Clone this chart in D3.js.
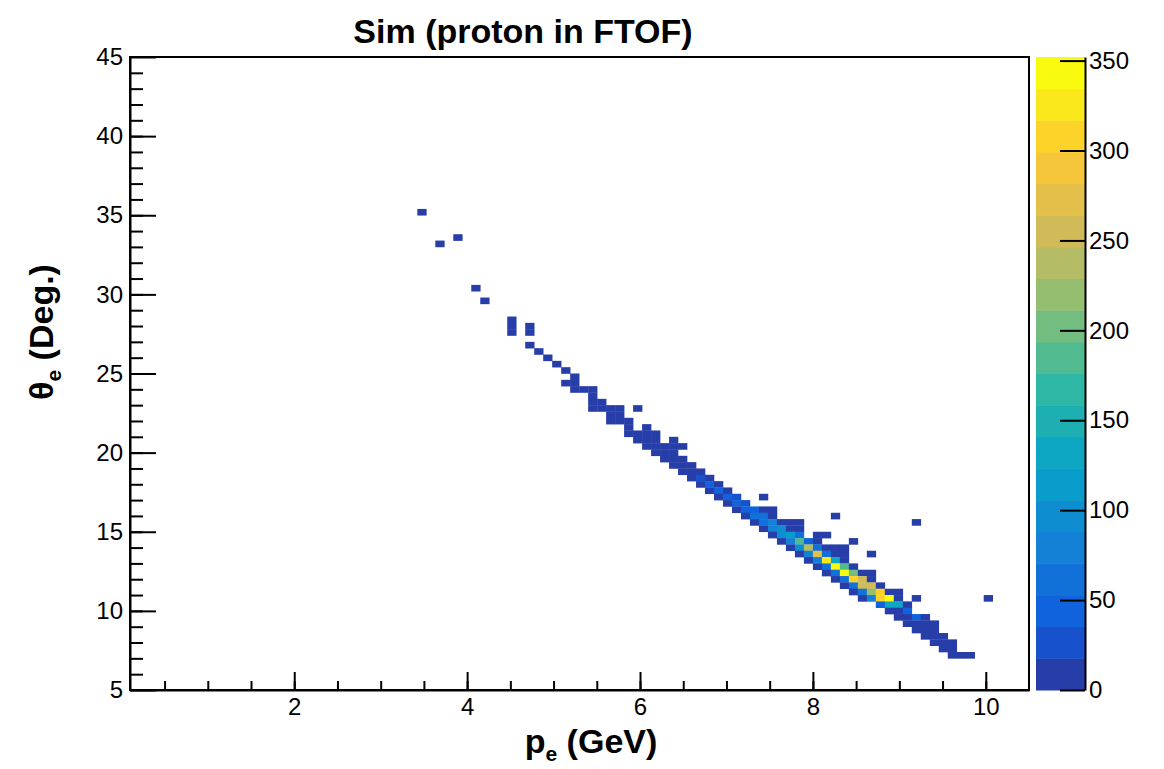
<!DOCTYPE html>
<html>
<head>
<meta charset="utf-8">
<script src="https://cdn.jsdelivr.net/npm/d3@7"></script>
<style>
  body { margin: 0; background: #fff; }
  text { font-family: "Liberation Sans", Arial, Helvetica, sans-serif; }
</style>
</head>
<body>
<div id="chart"></div>
<script>
// histogram binning (100 x 100)
const pBinLo = 0.2, pBinWidth = 0.104;
const thBinLo = 5, thBinWidth = 0.4;

// filled cells: [theta bin, p bin, counts]
const cells = [
  [75, 31, 3], [71, 35, 2], [70, 33, 2], [63, 37, 2], [61, 38, 3],
  [58, 41, 2], [57, 41, 4], [57, 43, 3], [56, 41, 3], [56, 43, 2],
  [54, 43, 3], [53, 44, 4], [52, 45, 3], [51, 46, 5], [50, 47, 4],
  [49, 48, 6], [48, 47, 3], [48, 48, 7], [47, 48, 5], [47, 49, 8], [47, 50, 4],
  [46, 50, 10], [45, 50, 8], [45, 51, 6],
  [44, 50, 5], [44, 51, 12], [44, 52, 7], [44, 53, 3], [44, 55, 2],
  [43, 52, 10], [43, 53, 9],
  [42, 52, 6], [42, 53, 12], [42, 54, 8],
  [41, 54, 11], [41, 56, 3],
  [40, 54, 7], [40, 55, 14], [40, 56, 10], [40, 57, 4],
  [39, 55, 9], [39, 56, 15], [39, 57, 8], [39, 59, 2],
  [38, 56, 6], [38, 57, 14], [38, 58, 12], [38, 59, 5], [38, 60, 3],
  [37, 57, 8], [37, 58, 15], [37, 59, 10],
  [36, 58, 9], [36, 59, 16], [36, 60, 6],
  [35, 59, 7], [35, 60, 15], [35, 61, 10],
  [34, 60, 8], [34, 61, 16], [34, 62, 9],
  [33, 61, 12], [33, 62, 30], [33, 63, 10],
  [32, 62, 14], [32, 63, 38], [32, 64, 12],
  [31, 63, 15], [31, 64, 42], [31, 65, 14],
  [30, 64, 12], [30, 65, 40], [30, 66, 30], [30, 69, 3],
  [29, 65, 15], [29, 66, 45], [29, 67, 25],
  [28, 66, 14], [28, 67, 48], [28, 68, 52], [28, 69, 10], [28, 70, 4],
  [27, 67, 16], [27, 68, 58], [27, 69, 62], [27, 70, 12], [27, 77, 3],
  [26, 68, 14], [26, 69, 62], [26, 70, 78], [26, 71, 10], [26, 72, 8], [26, 73, 4], [26, 86, 2],
  [25, 69, 15], [25, 70, 72], [25, 71, 100], [25, 72, 12], [25, 73, 5],
  [24, 70, 16], [24, 71, 88], [24, 72, 122], [24, 73, 58], [24, 75, 6], [24, 76, 3],
  [23, 71, 14], [23, 72, 80], [23, 73, 178], [23, 74, 45], [23, 75, 8], [23, 79, 3],
  [22, 72, 15], [22, 73, 95], [22, 74, 235], [22, 75, 62], [22, 76, 12], [22, 77, 6], [22, 78, 3],
  [21, 73, 14], [21, 74, 85], [21, 75, 270], [21, 76, 60], [21, 77, 10], [21, 78, 5], [21, 81, 2],
  [20, 74, 16], [20, 75, 80], [20, 76, 328], [20, 77, 130], [20, 78, 8],
  [19, 75, 15], [19, 76, 65], [19, 77, 345], [19, 78, 185], [19, 79, 12],
  [18, 76, 14], [18, 77, 60], [18, 78, 338], [18, 79, 210], [18, 80, 10], [18, 81, 4],
  [17, 77, 15], [17, 78, 55], [17, 79, 310], [17, 80, 258], [17, 81, 12],
  [16, 78, 14], [16, 79, 58], [16, 80, 262], [16, 81, 262], [16, 82, 10],
  [15, 79, 15], [15, 80, 62], [15, 81, 222], [15, 82, 300], [15, 83, 10], [15, 84, 5],
  [14, 80, 14], [14, 81, 75], [14, 82, 302], [14, 83, 352], [14, 84, 12], [14, 86, 3], [14, 94, 2],
  [13, 82, 40], [13, 83, 135], [13, 84, 128], [13, 85, 12],
  [12, 83, 14], [12, 84, 10], [12, 85, 40],
  [11, 84, 12], [11, 85, 14], [11, 86, 38], [11, 87, 8],
  [10, 85, 10], [10, 86, 15], [10, 87, 12], [10, 88, 5],
  [9, 86, 8], [9, 87, 14], [9, 88, 9],
  [8, 87, 7], [8, 88, 12], [8, 89, 6],
  [7, 88, 8], [7, 89, 10], [7, 90, 5],
  [6, 89, 6], [6, 90, 9],
  [5, 90, 4], [5, 91, 7], [5, 92, 5]
];

const xTicks = [2, 4, 6, 8, 10];
const yTicks = [5, 10, 15, 20, 25, 30, 35, 40, 45];
const zTicks = [0, 50, 100, 150, 200, 250, 300, 350];
const nContours = 20;

// ROOT kBird palette
const birdStops = [0.0, 0.125, 0.25, 0.375, 0.5, 0.625, 0.75, 0.875, 1.0];
const birdR = [0.2082, 0.0592, 0.0780, 0.0232, 0.1802, 0.5301, 0.8186, 0.9956, 0.9764];
const birdG = [0.1664, 0.3599, 0.5041, 0.6419, 0.7178, 0.7492, 0.7328, 0.7862, 0.9832];
const birdB = [0.5293, 0.8684, 0.8385, 0.7914, 0.6425, 0.4662, 0.3499, 0.1968, 0.0539];
const bird = d3.scaleLinear()
  .domain(birdStops)
  .range(birdStops.map((s, i) => d3.rgb(birdR[i] * 255, birdG[i] * 255, birdB[i] * 255)))
  .interpolate(d3.interpolateRgb);
const levelColor = i => bird(Math.floor((i + 0.99) * 255 / nContours) / 254);

const W = 1164, H = 769;
const frame = { left: 130, right: 1029, top: 57, bottom: 690 };
const bar = { left: 1036, right: 1085 };
const labelSize = 24;

const svg = d3.select('#chart').append('svg')
  .attr('width', W).attr('height', H);
svg.append('rect').attr('width', W).attr('height', H).attr('fill', '#fff');

const x = d3.scaleLinear().domain([0.1, 10.5]).range([frame.left, frame.right]);
const y = d3.scaleLinear().domain([5, 45]).range([frame.bottom, frame.top]);
const zMax = d3.max(cells, d => d[2]);
const z = d3.scaleLinear().domain([0, zMax]).range([frame.bottom, frame.top]);
const level = v => Math.min(nContours - 1, Math.floor(v / zMax * nContours));

// cells
svg.append('g').selectAll('rect')
  .data(cells)
  .join('rect')
  .attr('x', d => x(pBinLo + d[1] * pBinWidth))
  .attr('width', d => x(pBinLo + (d[1] + 1) * pBinWidth) - x(pBinLo + d[1] * pBinWidth) + 0.3)
  .attr('y', d => y(thBinLo + (d[0] + 1) * thBinWidth))
  .attr('height', d => y(thBinLo + d[0] * thBinWidth) - y(thBinLo + (d[0] + 1) * thBinWidth) + 0.3)
  .attr('fill', d => levelColor(level(d[2])));

// frame
svg.append('rect')
  .attr('x', frame.left).attr('y', frame.top)
  .attr('width', frame.right - frame.left).attr('height', frame.bottom - frame.top)
  .attr('fill', 'none').attr('stroke', '#000').attr('stroke-width', 2);

function styleAxis(g) {
  g.selectAll('path').attr('stroke', '#000').attr('stroke-width', 2);
  g.selectAll('line').attr('stroke', '#000').attr('stroke-width', 2);
  g.selectAll('text').attr('font-size', labelSize).attr('fill', '#000')
    .style('font-family', '"Liberation Sans", Arial, sans-serif');
}

// x axis
svg.append('g')
  .attr('transform', `translate(0,${frame.bottom})`)
  .call(d3.axisBottom(x).tickValues(d3.range(0.5, 10.5, 0.5)).tickSize(-9).tickFormat('').tickSizeOuter(0))
  .call(styleAxis);
svg.append('g')
  .attr('transform', `translate(0,${frame.bottom})`)
  .call(d3.axisBottom(x).tickValues(xTicks).tickSize(-18).tickPadding(8).tickSizeOuter(0))
  .call(styleAxis)
  .call(g => g.select('.domain').remove());

// y axis
svg.append('g')
  .attr('transform', `translate(${frame.left},0)`)
  .call(d3.axisLeft(y).tickValues(d3.range(6, 45, 1)).tickSize(-13).tickFormat('').tickSizeOuter(0))
  .call(styleAxis);
svg.append('g')
  .attr('transform', `translate(${frame.left},0)`)
  .call(d3.axisLeft(y).tickValues(yTicks).tickSize(-26).tickPadding(8).tickSizeOuter(0))
  .call(styleAxis)
  .call(g => g.select('.domain').remove())
  .call(g => g.selectAll('.tick line').attr('x2', 26))
  .call(g => g.selectAll('.tick text').attr('x', -7));

// colour bar
const bands = d3.range(nContours);
svg.append('g').selectAll('rect')
  .data(bands)
  .join('rect')
  .attr('x', bar.left)
  .attr('width', bar.right - bar.left)
  .attr('y', i => z((i + 1) * zMax / nContours))
  .attr('height', i => z(i * zMax / nContours) - z((i + 1) * zMax / nContours) + 0.5)
  .attr('fill', i => levelColor(i));
svg.append('g')
  .attr('transform', `translate(${bar.right},0)`)
  .call(d3.axisRight(z).tickValues(zTicks).tickSize(-25).tickPadding(4).tickSizeOuter(0))
  .call(styleAxis);

// titles
svg.append('text')
  .attr('x', 523).attr('y', 43)
  .attr('text-anchor', 'middle')
  .attr('font-size', 34).attr('font-weight', 'bold')
  .text('Sim (proton in FTOF)');

const xt = svg.append('text')
  .attr('x', 591).attr('y', 753)
  .attr('text-anchor', 'middle')
  .attr('font-size', 34).attr('font-weight', 'bold');
xt.append('tspan').text('p');
xt.append('tspan').attr('font-size', 21).attr('dy', 8).text('e');
xt.append('tspan').attr('dy', -8).text(' (GeV)');

const yt = svg.append('text')
  .attr('transform', 'translate(53,332) rotate(-90)')
  .attr('text-anchor', 'middle')
  .attr('font-size', 34).attr('font-weight', 'bold');
yt.append('tspan').text('θ');
yt.append('tspan').attr('font-size', 21).attr('dy', 8).text('e');
yt.append('tspan').attr('dy', -8).text(' (Deg.)');
</script>
</body>
</html>
